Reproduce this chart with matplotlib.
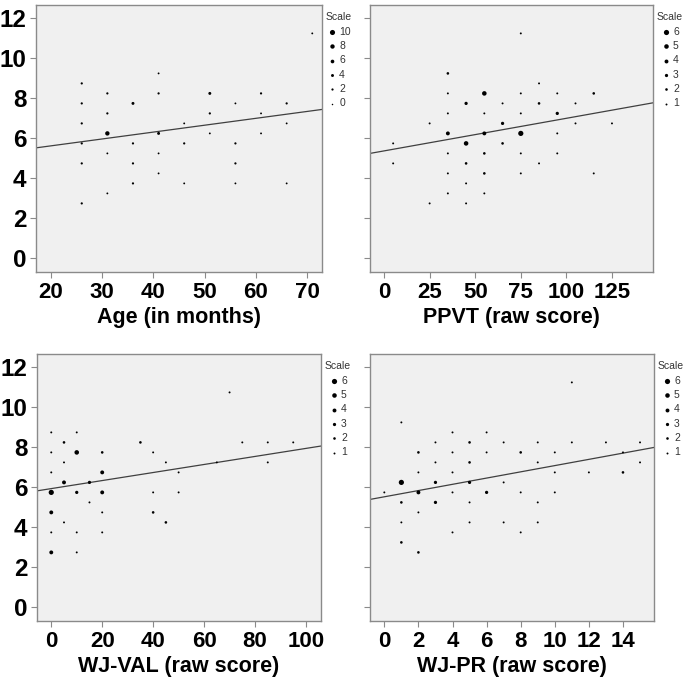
import matplotlib
matplotlib.use("Agg")
import matplotlib.pyplot as plt
import numpy as np

plt.rcParams['font.family'] = ['Liberation Sans', 'DejaVu Sans']

# ---------------- data ----------------
# Panel 1: Age
age_x = [26, 26, 26, 26, 26, 26,
         31, 31, 31, 31, 31,
         36, 36, 36, 36,
         41, 41, 41, 41, 41,
         46, 46, 46,
         51, 51, 51,
         56, 56, 56, 56,
         61, 61, 61,
         66, 66, 66,
         71]
age_y = [8.75, 7.75, 6.75, 5.75, 4.75, 2.75,
         8.25, 7.25, 6.25, 5.25, 3.25,
         7.75, 5.75, 4.75, 3.75,
         9.25, 8.25, 6.25, 5.25, 4.25,
         6.75, 5.75, 3.75,
         8.25, 7.25, 6.25,
         7.75, 5.75, 4.75, 3.75,
         8.25, 7.25, 6.25,
         7.75, 6.75, 3.75,
         11.25]
age_s = [2, 2, 2, 2, 2, 2,
         2, 2, 8, 1, 1,
         4, 2, 2, 2,
         1, 2, 4, 1, 1,
         1, 2, 1,
         4, 2, 1,
         1, 2, 2, 1,
         2, 1, 1,
         2, 1, 1,
         1]

# Panel 2: PPVT
ppvt_x = [5, 5,
          25, 25,
          35, 35, 35, 35, 35, 35, 35,
          45, 45, 45, 45, 45,
          55, 55, 55, 55, 55, 55,
          65, 65, 65,
          75, 75, 75, 75, 75, 75,
          85, 85, 85,
          95, 95, 95, 95,
          105, 105,
          115, 115,
          125]
ppvt_y = [5.75, 4.75,
          6.75, 2.75,
          9.25, 8.25, 7.25, 6.25, 5.25, 4.25, 3.25,
          7.75, 5.75, 4.75, 3.75, 2.75,
          8.25, 7.25, 6.25, 5.25, 4.25, 3.25,
          7.75, 6.75, 5.75,
          11.25, 8.25, 7.25, 6.25, 5.25, 4.25,
          8.75, 7.75, 4.75,
          8.25, 7.25, 6.25, 5.25,
          7.75, 6.75,
          8.25, 4.25,
          6.75]
ppvt_s = [1, 1,
          1, 1,
          2, 1, 1, 4, 1, 1, 1,
          3, 5, 2, 1, 1,
          5, 1, 4, 2, 2, 1,
          1, 3, 2,
          1, 1, 1, 6, 1, 1,
          1, 2, 1,
          1, 3, 1, 1,
          1, 1,
          2, 1,
          1]

# Panel 3: WJ-VAL
val_x = [0, 0, 0, 0, 0, 0, 0,
         5, 5, 5, 5,
         10, 10, 10, 10, 10,
         15, 15,
         20, 20, 20, 20, 20,
         35,
         40, 40, 40,
         45, 45,
         50, 50,
         65, 70, 75,
         85, 85,
         95]
val_y = [8.75, 7.75, 6.75, 5.75, 4.75, 3.75, 2.75,
         8.25, 7.25, 6.25, 4.25,
         8.75, 7.75, 5.75, 3.75, 2.75,
         6.25, 5.25,
         7.75, 6.75, 5.75, 4.75, 3.75,
         8.25,
         7.75, 5.75, 4.75,
         7.25, 4.25,
         6.75, 5.75,
         7.25, 10.75, 8.25,
         8.25, 7.25,
         8.25]
val_s = [1, 1, 1, 6, 4, 1, 4,
         2, 1, 4, 1,
         1, 5, 3, 1, 1,
         3, 1,
         2, 4, 4, 1, 1,
         2,
         1, 1, 2,
         1, 2,
         1, 1,
         1, 1, 1,
         1, 1,
         1]

# Panel 4: WJ-PR
pr_x = [0,
        1, 1, 1, 1, 1,
        2, 2, 2, 2, 2,
        3, 3, 3, 3,
        4, 4, 4, 4, 4,
        5, 5, 5, 5, 5,
        6, 6, 6,
        7, 7, 7,
        8, 8, 8,
        9, 9, 9, 9,
        10, 10, 10,
        11, 11,
        12, 13,
        14, 14,
        15, 15]
pr_y = [5.75,
        9.25, 6.25, 5.25, 4.25, 3.25,
        7.75, 6.75, 5.75, 4.75, 2.75,
        8.25, 7.25, 6.25, 5.25,
        8.75, 7.75, 6.75, 5.75, 3.75,
        8.25, 7.25, 6.25, 5.25, 4.25,
        8.75, 7.75, 5.75,
        8.25, 6.25, 4.25,
        7.75, 5.75, 3.75,
        8.25, 7.25, 5.25, 4.25,
        7.75, 6.75, 5.75,
        11.25, 8.25,
        6.75, 8.25,
        7.75, 6.75,
        8.25, 7.25]
pr_s = [1,
        1, 6, 2, 1, 2,
        2, 1, 4, 1, 2,
        1, 1, 3, 3,
        1, 1, 1, 1, 1,
        2, 2, 3, 1, 1,
        1, 1, 3,
        1, 1, 1,
        2, 1, 1,
        1, 1, 1, 1,
        1, 1, 1,
        1, 1,
        1, 1,
        1, 2,
        1, 1]

# fit lines: intercept, slope
fit_intercept = [4.94, 5.375, 5.94, 5.53]
fit_slope = [0.0344, 0.0163, 0.0201, 0.156]

xlabels = ["Age (in months)", "PPVT (raw score)", "WJ-VAL (raw score)", "WJ-PR (raw score)"]
xticks = [[20, 30, 40, 50, 60, 70], [0, 25, 50, 75, 100, 125],
          [0, 20, 40, 60, 80, 100], [0, 2, 4, 6, 8, 10, 12, 14]]
xlims = [(17.07, 72.9), (-7.7, 147.5), (-5.6, 105.9), (-0.84, 15.82)]
legend_vals = [[10, 8, 6, 4, 2, 0], [6, 5, 4, 3, 2, 1], [6, 5, 4, 3, 2, 1], [6, 5, 4, 3, 2, 1]]
yticks = [0, 2, 4, 6, 8, 10, 12]

panels = [(age_x, age_y, age_s), (ppvt_x, ppvt_y, ppvt_s),
          (val_x, val_y, val_s), (pr_x, pr_y, pr_s)]

W, H = 688, 682
fig = plt.figure(figsize=(W / 100, H / 100), dpi=100)

# axes boxes in pixels (left, top, right, bottom)
boxes = [(36, 5, 322, 272), (370, 5, 653, 272), (37, 354, 321, 621), (370, 354, 654, 621)]


def size_of(v, panel):
    if panel == 0:
        d = 1.5 + 0.36 * v
    else:
        d = 1.3 + 0.65 * v
    return (d * 0.72) ** 2


for i, (box, (xs, ys, ss)) in enumerate(zip(boxes, panels)):
    l, t, r, b = box
    ax = fig.add_axes([l / W, 1 - b / H, (r - l) / W, (b - t) / H])
    ax.set_facecolor('#f0f0f0')
    sizes = [size_of(v, i) for v in ss]
    ax.scatter(xs, ys, s=sizes, c='black', linewidths=0, zorder=3)
    xl = np.array(xlims[i])
    ax.plot(xl, fit_intercept[i] + fit_slope[i] * xl, color='#404040', lw=0.9, zorder=2)
    ax.set_xlim(*xlims[i])
    ax.set_ylim(-0.68, 12.67)
    ax.set_xticks(xticks[i])
    ax.set_yticks(yticks)
    for sp in ax.spines.values():
        sp.set_color('#8a8a8a')
        sp.set_linewidth(1.0)
    ax.tick_params(direction='out', length=4, width=0.8, color='#8a8a8a', pad=3)
    ax.tick_params(axis='x', labelsize=16)
    ax.tick_params(axis='y', labelsize=17.5)
    for lab in ax.get_xticklabels() + ax.get_yticklabels():
        lab.set_fontweight('bold')
    if i in (1, 3):
        ax.tick_params(axis='y', labelleft=False)
    ax.set_xlabel(xlabels[i], fontsize=15.5, fontweight='bold', labelpad=3)

    handles = [ax.scatter([], [], s=size_of(v, i), c='black', linewidths=0)
               for v in legend_vals[i]]
    leg = ax.legend(handles, [str(v) for v in legend_vals[i]], title='Scale',
                    loc='upper left', bbox_to_anchor=(1.0, 0.985), frameon=False,
                    fontsize=7.5, title_fontsize=7.5, handletextpad=0.1,
                    handlelength=1.2, labelspacing=0.42, borderaxespad=0.2,
                    borderpad=0.1)
    for txt in leg.get_texts():
        txt.set_color('#333333')
    leg.get_title().set_color('#333333')

fig.savefig('out.png', dpi=100)
